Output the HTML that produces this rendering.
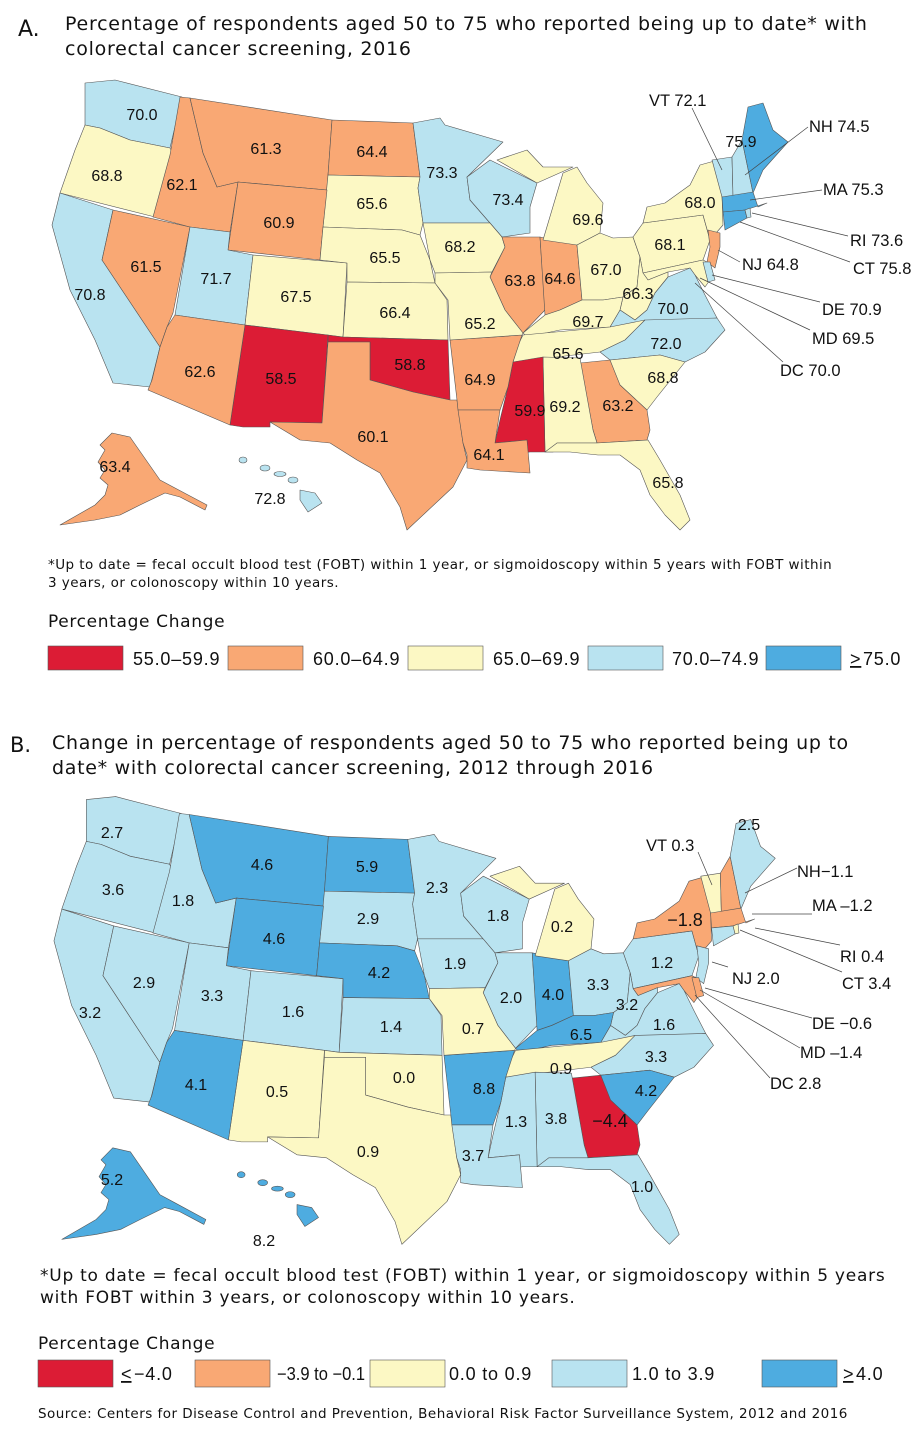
<!DOCTYPE html>
<html><head><meta charset="utf-8">
<style>
body{margin:0;background:#fff;}
svg text{font-family:"Liberation Sans","DejaVu Sans",sans-serif;fill:#111;}
.v{font-size:16px;text-anchor:middle;}
.c{font-size:16.5px;}
.t{font-family:"DejaVu Sans","Liberation Sans",sans-serif !important;}
</style></head>
<body>
<svg width="920" height="1435" viewBox="0 0 920 1435" xmlns="http://www.w3.org/2000/svg">
<defs>
<path id="WA" d="M85,83 L115,80 L182,97 L170,148 L130,140 L100,128 L85,125 Z"/>
<path id="OR" d="M85,125 L100,128 L130,140 L170,148 L175,158 L155,217 L60,193 L75,150 Z"/>
<path id="CA" d="M60,193 L113,210 L102,260 L160,347 L150,387 L113,383 L95,340 L70,290 L52,225 Z"/>
<path id="NV" d="M113,210 L190,227 L173,313 L167,327 L160,347 L102,260 Z"/>
<path id="ID" d="M180,97 L190,98 L203,153 L217,187 L238,182 L230,232 L190,227 L153,217 L170,155 Z"/>
<path id="MT" d="M190,98 L332,120 L327,190 L238,182 L217,187 L203,153 Z"/>
<path id="ND" d="M332,120 L413,123 L420,177 L328,175 Z"/>
<path id="SD" d="M328,175 L420,177 L418,188 L423,223 L420,235 L402,230 L323,227 Z"/>
<path id="WY" d="M238,182 L327,190 L323,227 L320,260 L228,250 Z"/>
<path id="UT" d="M190,227 L230,232 L228,250 L253,255 L245,325 L175,315 Z"/>
<path id="CO" d="M253,255 L347,263 L343,337 L245,325 Z"/>
<path id="NE" d="M323,227 L402,230 L420,235 L430,260 L435,283 L347,282 L347,263 L320,260 Z"/>
<path id="KS" d="M347,282 L435,283 L447,300 L448,340 L343,337 Z"/>
<path id="OK" d="M328,335 L343,337 L448,340 L450,400 L413,392 L370,380 L370,342 L328,342 Z"/>
<path id="NM" d="M245,325 L328,335 L322,423 L270,422 L270,427 L243,427 L230,425 Z"/>
<path id="AZ" d="M175,315 L245,325 L230,425 L148,390 L152,380 L160,347 L167,327 Z"/>
<path id="TX" d="M328,342 L370,342 L370,380 L413,392 L450,400 L457,400 L463,443 L467,460 L453,487 L407,530 L400,507 L380,473 L357,460 L330,443 L300,440 L270,422 L322,423 Z"/>
<path id="MN" d="M413,123 L440,118 L445,125 L503,142 L467,177 L470,200 L490,223 L423,223 L418,188 L420,177 Z"/>
<path id="WI" d="M467,177 L490,160 L537,183 L530,207 L530,233 L502,237 L490,223 L470,200 Z"/>
<path id="IA" d="M423,223 L490,223 L502,237 L505,247 L492,272 L435,273 L430,260 Z"/>
<path id="IL" d="M502,237 L540,237 L545,310 L523,333 L505,310 L490,277 L505,247 Z"/>
<path id="IN" d="M540,237 L577,245 L582,300 L560,310 L545,315 Z"/>
<path id="MI" d="M543,240 L557,193 L563,173 L577,167 L587,183 L603,203 L600,233 L577,245 Z M497,160 L527,150 L543,167 L573,167 L537,183 Z"/>
<path id="OH" d="M577,245 L600,233 L613,238 L633,237 L640,257 L637,287 L623,297 L603,300 L582,300 Z"/>
<path id="PA" d="M643,223 L703,215 L710,240 L703,260 L643,273 L640,257 L633,237 Z"/>
<path id="NY" d="M643,223 L647,207 L665,203 L690,185 L700,165 L718,160 L722,195 L723,225 L710,240 L703,215 Z"/>
<path id="VT" d="M712,160 L732,157 L733,197 L722,197 Z"/>
<path id="NH" d="M732,157 L742,140 L753,193 L733,197 Z"/>
<path id="ME" d="M742,140 L748,107 L763,103 L773,130 L788,142 L763,170 L753,193 Z"/>
<path id="MA" d="M722,197 L753,192 L758,207 L767,203 L745,210 L723,212 Z"/>
<path id="CT" d="M723,212 L745,210 L747,218 L725,230 Z"/>
<path id="RI" d="M745,210 L750,208 L751,217 L747,218 Z"/>
<path id="NJ" d="M708,230 L720,233 L720,247 L715,268 L707,262 L710,247 Z"/>
<path id="MD" d="M643,273 L703,260 L707,262 L712,277 L705,287 L695,275 L690,268 L668,272 L648,280 Z"/>
<path id="DE" d="M703,262 L710,262 L715,280 L708,282 Z"/>
<path id="WV" d="M640,257 L643,273 L648,280 L668,272 L668,277 L655,293 L647,310 L635,320 L620,310 L623,297 L637,287 Z"/>
<path id="VA" d="M610,327 L620,310 L635,320 L647,310 L655,293 L668,277 L690,268 L695,275 L705,295 L717,318 Z"/>
<path id="KY" d="M523,333 L545,315 L560,310 L582,300 L603,300 L623,297 L620,310 L610,327 L560,330 L527,337 Z"/>
<path id="TN" d="M523,335 L610,327 L645,320 L625,340 L600,352 L513,362 L518,345 Z"/>
<path id="NC" d="M645,320 L717,318 L725,330 L705,352 L685,362 L660,355 L610,360 L600,352 L625,340 Z"/>
<path id="SC" d="M610,360 L660,355 L685,362 L657,397 L647,410 L620,385 L600,365 Z"/>
<path id="GA" d="M580,363 L610,360 L620,385 L647,410 L650,430 L647,440 L597,443 L593,430 Z"/>
<path id="AL" d="M543,357 L580,358 L593,430 L597,443 L557,443 L553,452 L545,452 Z"/>
<path id="MS" d="M513,362 L543,357 L545,452 L530,452 L523,453 L527,440 L495,443 L500,420 L508,387 Z"/>
<path id="AR" d="M450,340 L522,335 L513,362 L508,387 L500,410 L458,410 L457,400 Z"/>
<path id="MO" d="M435,273 L492,272 L490,277 L505,310 L523,333 L522,335 L450,340 L448,300 L435,283 Z"/>
<path id="LA" d="M458,410 L500,410 L495,443 L527,440 L530,473 L480,470 L467,468 L467,455 L463,443 Z"/>
<path id="FL" d="M545,452 L557,443 L597,443 L648,440 L660,460 L680,495 L690,520 L680,530 L665,515 L650,495 L640,470 L620,455 L598,455 L570,452 Z"/>
<path id="AK" d="M112,433 L130,437 L160,480 L175,488 L207,505 L205,510 L180,497 L165,493 L140,505 L120,515 L95,520 L60,525 L95,505 L105,495 L108,485 L100,478 L105,470 L98,462 L105,450 L100,445 Z"/>
<g id="HI"><ellipse cx="243" cy="460" rx="4" ry="3"/><ellipse cx="265" cy="468" rx="5" ry="3"/><ellipse cx="280" cy="474" rx="6" ry="2.5"/><ellipse cx="293" cy="480" rx="5" ry="3"/><path d="M300,490 L315,493 L322,503 L308,512 L300,500 Z"/></g>
</defs>

<!-- MAP A -->
<g stroke="#555" stroke-width="0.6" stroke-linejoin="round">
<use href="#WA" fill="#b9e3f0"/><use href="#OR" fill="#fcf8c4"/><use href="#CA" fill="#b9e3f0"/><use href="#NV" fill="#f9a874"/>
<use href="#ID" fill="#f9a874"/><use href="#MT" fill="#f9a874"/><use href="#ND" fill="#f9a874"/><use href="#SD" fill="#fcf8c4"/>
<use href="#WY" fill="#f9a874"/><use href="#UT" fill="#b9e3f0"/><use href="#CO" fill="#fcf8c4"/><use href="#NE" fill="#fcf8c4"/>
<use href="#KS" fill="#fcf8c4"/><use href="#OK" fill="#dc1c35"/><use href="#NM" fill="#dc1c35"/><use href="#AZ" fill="#f9a874"/>
<use href="#TX" fill="#f9a874"/><use href="#MN" fill="#b9e3f0"/><use href="#WI" fill="#b9e3f0"/><use href="#IA" fill="#fcf8c4"/>
<use href="#IL" fill="#f9a874"/><use href="#IN" fill="#f9a874"/><use href="#MI" fill="#fcf8c4"/><use href="#OH" fill="#fcf8c4"/>
<use href="#PA" fill="#fcf8c4"/><use href="#NY" fill="#fcf8c4"/><use href="#VT" fill="#b9e3f0"/><use href="#NH" fill="#b9e3f0"/>
<use href="#ME" fill="#4eace0"/><use href="#MA" fill="#4eace0"/><use href="#CT" fill="#4eace0"/><use href="#RI" fill="#b9e3f0"/>
<use href="#NJ" fill="#f9a874"/><use href="#MD" fill="#fcf8c4"/><use href="#DE" fill="#b9e3f0"/><use href="#WV" fill="#fcf8c4"/>
<use href="#VA" fill="#b9e3f0"/><use href="#KY" fill="#fcf8c4"/><use href="#TN" fill="#fcf8c4"/><use href="#NC" fill="#b9e3f0"/>
<use href="#SC" fill="#fcf8c4"/><use href="#GA" fill="#f9a874"/><use href="#AL" fill="#fcf8c4"/><use href="#MS" fill="#dc1c35"/>
<use href="#AR" fill="#f9a874"/><use href="#MO" fill="#fcf8c4"/><use href="#LA" fill="#f9a874"/><use href="#FL" fill="#fcf8c4"/>
<use href="#AK" fill="#f9a874"/><use href="#HI" fill="#b9e3f0"/>
</g>
<g stroke="#444" stroke-width="0.7" fill="none">
<path d="M692,108 L722,170"/><path d="M808,127 L745,175"/><path d="M822,190 L750,200"/><path d="M848,236 L752,213"/><path d="M850,262 L740,222"/>
<path d="M740,262 L718,250"/><path d="M820,302 L712,275"/><path d="M810,330 L700,278"/><path d="M783,362 L695,283"/>
</g>
<g class="v">
<text x="142" y="120">70.0</text><text x="107" y="181">68.8</text><text x="90" y="300">70.8</text><text x="146" y="272">61.5</text>
<text x="182" y="190">62.1</text><text x="266" y="154">61.3</text><text x="372" y="157">64.4</text><text x="372" y="209">65.6</text>
<text x="279" y="228">60.9</text><text x="216" y="284">71.7</text><text x="296" y="302">67.5</text><text x="385" y="263">65.5</text>
<text x="395" y="318">66.4</text><text x="410" y="370">58.8</text><text x="281" y="384">58.5</text><text x="200" y="377">62.6</text>
<text x="373" y="442">60.1</text><text x="442" y="178">73.3</text><text x="508" y="205">73.4</text><text x="460" y="252">68.2</text>
<text x="520" y="286">63.8</text><text x="560" y="284">64.6</text><text x="588" y="225">69.6</text><text x="606" y="275">67.0</text>
<text x="670" y="250">68.1</text><text x="700" y="208">68.0</text><text x="741" y="147">75.9</text>
<text x="638" y="299">66.3</text><text x="673" y="314">70.0</text><text x="588" y="327">69.7</text><text x="568" y="359">65.6</text>
<text x="666" y="349">72.0</text><text x="663" y="383">68.8</text><text x="618" y="411">63.2</text><text x="565" y="412">69.2</text>
<text x="530" y="416">59.9</text><text x="480" y="385">64.9</text><text x="480" y="329">65.2</text><text x="489" y="460">64.1</text>
<text x="668" y="488">65.8</text><text x="115" y="472">63.4</text><text x="270" y="504">72.8</text>
</g>
<g class="c">
<text x="649" y="106">VT 72.1</text><text x="809" y="132">NH 74.5</text><text x="823" y="195">MA 75.3</text><text x="850" y="246">RI 73.6</text>
<text x="853" y="274">CT 75.8</text><text x="742" y="270">NJ 64.8</text><text x="822" y="315">DE 70.9</text><text x="812" y="344">MD 69.5</text><text x="780" y="376">DC 70.0</text>
</g>

<text class="t" x="18" y="36" style="font-size:22px">A.</text>
<text class="t" x="65" y="30" style="font-size:19px;letter-spacing:0.75px">Percentage of respondents aged 50 to 75 who reported being up to date* with</text>
<text class="t" x="65" y="55" style="font-size:19px;letter-spacing:0.75px">colorectal cancer screening, 2016</text>
<text class="t" x="48" y="569" style="font-size:13.5px;letter-spacing:0.45px">*Up to date =  fecal occult blood test (FOBT) within 1 year, or sigmoidoscopy within 5 years with FOBT within</text>
<text class="t" x="48" y="587" style="font-size:13.5px;letter-spacing:0.45px">3 years, or colonoscopy within 10 years.</text>
<text class="t" x="48" y="627" style="font-size:17px;letter-spacing:0.65px">Percentage Change</text>
<g stroke="#555" stroke-width="0.6">
<rect x="48" y="646" width="75" height="24" fill="#dc1c35"/><rect x="228" y="646" width="75" height="24" fill="#f9a874"/>
<rect x="408" y="646" width="75" height="24" fill="#fcf8c4"/><rect x="588" y="646" width="75" height="24" fill="#b9e3f0"/>
<rect x="766" y="646" width="75" height="24" fill="#4eace0"/>
</g>
<g class="t" style="font-size:18px;letter-spacing:0.8px">
<text x="133" y="665">55.0–59.9</text><text x="313" y="665">60.0–64.9</text><text x="493" y="665">65.0–69.9</text><text x="672" y="665">70.0–74.9</text><text x="850" y="665" text-decoration="underline">&gt;</text><text x="863" y="665">75.0</text>
</g>

<!-- MAP B -->
<g transform="translate(3,717) scale(0.98,0.995)" stroke="#555" stroke-width="0.6" stroke-linejoin="round">
<use href="#WA" fill="#b9e3f0"/><use href="#OR" fill="#b9e3f0"/><use href="#CA" fill="#b9e3f0"/><use href="#NV" fill="#b9e3f0"/>
<use href="#ID" fill="#b9e3f0"/><use href="#MT" fill="#4eace0"/><use href="#ND" fill="#4eace0"/><use href="#SD" fill="#b9e3f0"/>
<use href="#WY" fill="#4eace0"/><use href="#UT" fill="#b9e3f0"/><use href="#CO" fill="#b9e3f0"/><use href="#NE" fill="#4eace0"/>
<use href="#KS" fill="#b9e3f0"/><use href="#OK" fill="#fcf8c4"/><use href="#NM" fill="#fcf8c4"/><use href="#AZ" fill="#4eace0"/>
<use href="#TX" fill="#fcf8c4"/><use href="#MN" fill="#b9e3f0"/><use href="#WI" fill="#b9e3f0"/><use href="#IA" fill="#b9e3f0"/>
<use href="#IL" fill="#b9e3f0"/><use href="#IN" fill="#4eace0"/><use href="#MI" fill="#fcf8c4"/><use href="#OH" fill="#b9e3f0"/>
<use href="#PA" fill="#b9e3f0"/><use href="#NY" fill="#f9a874"/><use href="#VT" fill="#fcf8c4"/><use href="#NH" fill="#f9a874"/>
<use href="#ME" fill="#b9e3f0"/><use href="#MA" fill="#f9a874"/><use href="#CT" fill="#b9e3f0"/><use href="#RI" fill="#fcf8c4"/>
<use href="#NJ" fill="#b9e3f0"/><use href="#MD" fill="#f9a874"/><use href="#DE" fill="#f9a874"/><use href="#WV" fill="#b9e3f0"/>
<use href="#VA" fill="#b9e3f0"/><use href="#KY" fill="#4eace0"/><use href="#TN" fill="#fcf8c4"/><use href="#NC" fill="#b9e3f0"/>
<use href="#SC" fill="#4eace0"/><use href="#GA" fill="#dc1c35"/><use href="#AL" fill="#b9e3f0"/><use href="#MS" fill="#b9e3f0"/>
<use href="#AR" fill="#4eace0"/><use href="#MO" fill="#fcf8c4"/><use href="#LA" fill="#b9e3f0"/><use href="#FL" fill="#b9e3f0"/>
<use href="#AK" fill="#4eace0"/><use href="#HI" fill="#4eace0"/>
</g>
<g stroke="#444" stroke-width="0.7" fill="none">
<path d="M698,852 L712,885"/><path d="M797,868 L745,893"/><path d="M812,914 L752,914"/><path d="M840,945 L755,928"/><path d="M842,972 L740,930"/>
<path d="M728,967 L712,962"/><path d="M812,1018 L705,988"/><path d="M800,1048 L700,990"/><path d="M770,1078 L695,995"/>
</g>
<g class="v">
<text x="112" y="838">2.7</text><text x="113" y="895">3.6</text><text x="90" y="1018">3.2</text><text x="144" y="988">2.9</text>
<text x="183" y="906">1.8</text><text x="262" y="870">4.6</text><text x="367" y="872">5.9</text><text x="368" y="924">2.9</text>
<text x="274" y="944">4.6</text><text x="212" y="1001">3.3</text><text x="293" y="1017">1.6</text><text x="379" y="978">4.2</text>
<text x="391" y="1032">1.4</text><text x="404" y="1083">0.0</text><text x="277" y="1097">0.5</text><text x="196" y="1090">4.1</text>
<text x="368" y="1157">0.9</text><text x="437" y="893">2.3</text><text x="498" y="921">1.8</text><text x="455" y="969">1.9</text>
<text x="511" y="1003">2.0</text><text x="553" y="1000">4.0</text><text x="562" y="932">0.2</text><text x="598" y="990">3.3</text>
<text x="662" y="968">1.2</text><text x="685" y="926" style="font-size:18px">−1.8</text><text x="749" y="830">2.5</text>
<text x="627" y="1010">3.2</text><text x="664" y="1030">1.6</text><text x="581" y="1040">6.5</text><text x="561" y="1074">0.9</text>
<text x="656" y="1062">3.3</text><text x="646" y="1096">4.2</text><text x="610" y="1127" style="font-size:18px">−4.4</text><text x="556" y="1124">3.8</text>
<text x="516" y="1127">1.3</text><text x="484" y="1094">8.8</text><text x="473" y="1034">0.7</text><text x="473" y="1161">3.7</text>
<text x="642" y="1192">1.0</text><text x="112" y="1185">5.2</text><text x="264" y="1246">8.2</text>
</g>
<g class="c">
<text x="646" y="851">VT 0.3</text><text x="797" y="877">NH−1.1</text><text x="812" y="911">MA –1.2</text><text x="840" y="962">RI 0.4</text>
<text x="842" y="989">CT 3.4</text><text x="732" y="984">NJ 2.0</text><text x="812" y="1029">DE −0.6</text><text x="800" y="1058">MD –1.4</text><text x="770" y="1089">DC 2.8</text>
</g>

<text class="t" x="10" y="752" style="font-size:21px">B.</text>
<text class="t" x="52" y="749" style="font-size:19px;letter-spacing:0.7px">Change in percentage of respondents aged 50 to 75 who reported being up to</text>
<text class="t" x="52" y="774" style="font-size:19px;letter-spacing:0.7px">date* with colorectal cancer screening, 2012 through 2016</text>
<text class="t" x="40" y="1281" style="font-size:17px;letter-spacing:0.75px">*Up to date =  fecal occult blood test (FOBT) within 1 year, or sigmoidoscopy within 5 years</text>
<text class="t" x="40" y="1303" style="font-size:17px;letter-spacing:0.75px">with FOBT within 3 years, or colonoscopy within 10 years.</text>
<text class="t" x="38" y="1349" style="font-size:17px;letter-spacing:0.65px">Percentage Change</text>
<g stroke="#555" stroke-width="0.6">
<rect x="38" y="1360" width="75" height="27" fill="#dc1c35"/><rect x="195" y="1360" width="75" height="27" fill="#f9a874"/>
<rect x="370" y="1360" width="75" height="27" fill="#fcf8c4"/><rect x="552" y="1360" width="75" height="27" fill="#b9e3f0"/>
<rect x="762" y="1360" width="75" height="27" fill="#4eace0"/>
</g>
<g class="t" style="font-size:18px">
<text x="121" y="1380" text-decoration="underline">&lt;</text><text x="134" y="1380" style="letter-spacing:0.8px">−4.0</text><text x="277" y="1380" textLength="88" lengthAdjust="spacingAndGlyphs">−3.9 to −0.1</text><text x="449" y="1380" style="letter-spacing:0.8px">0.0 to 0.9</text><text x="632" y="1380" style="letter-spacing:0.8px">1.0 to 3.9</text><text x="843" y="1380" text-decoration="underline">&gt;</text><text x="856" y="1380" style="letter-spacing:0.8px">4.0</text>
</g>
<text class="t" x="38" y="1418" style="font-size:13.5px;letter-spacing:0.47px">Source: Centers for Disease Control and Prevention, Behavioral Risk Factor Surveillance System, 2012 and  2016</text>
</svg>
</body></html>
